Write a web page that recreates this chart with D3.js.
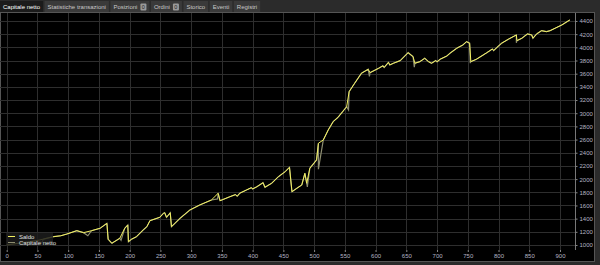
<!DOCTYPE html>
<meta charset="utf-8">
<style>
body { margin: 0; background: #2b2b2b; }
svg { display: block; font-family: "Liberation Sans", Arial, sans-serif; }
.tab text { font-size: 6px; fill: #c8c8c8; }
.tab.active text { fill: #ffffff; }
.axis text { font-size: 6px; fill: #b4b4c4; }
.legend text { font-size: 6px; fill: #e0e0e0; }
</style>
<svg width="600" height="265"></svg>
<script src="https://cdn.jsdelivr.net/npm/d3@7"></script>
<script>

// tab bar
var tabs = ["Capitale netto", "Statistiche transazioni", "Posizioni", "Ordini", "Storico", "Eventi", "Registri"];
var tabBadges = [null, null, "0", "0", null, null, null];

// trade number, balance
var tradeIdx = [0, 22, 46, 60, 76, 88, 98, 114, 125, 138, 152, 163, 165, 171, 184, 192, 197, 198, 203, 211,
  222, 228, 233, 249, 255, 257, 260, 266, 268, 282, 298, 314, 333, 344, 347, 363, 372, 375, 379, 390, 398, 400, 407, 417,
  420, 431, 442, 453, 460, 464, 472, 480, 485, 488, 493, 504, 507, 515, 523, 531, 539, 553, 557, 566,
  577, 588, 591, 605, 612, 614, 621, 623, 629, 640, 653, 661, 664, 672, 680, 686, 691, 698, 700, 705, 716, 721, 732, 742,
  748, 753, 755, 764, 781, 790, 792, 800, 805, 816, 829, 830, 838, 847, 854, 856, 862, 870, 878, 884, 892, 903, 916];
var saldo = [1000, 1030, 1061, 1090, 1126, 1140, 1167, 1217, 1187, 1217, 1254, 1329, 1087, 1026, 1102, 1254, 1304, 1050, 1087, 1126,
  1228, 1278, 1369, 1420, 1481, 1490, 1420, 1490, 1278, 1405, 1531, 1607, 1683, 1785, 1672, 1733, 1765, 1740, 1785, 1835, 1870, 1850, 1885, 1946,
  1876, 1937, 2037, 2113, 2179, 1809, 1861, 1911, 2088, 1937, 2164, 2290, 2544, 2594, 2746, 2872, 2939, 3099, 3327, 3455,
  3606, 3667, 3616, 3682, 3720, 3695, 3773, 3732, 3758, 3798, 3919, 3858, 3758, 3783, 3834, 3783, 3758, 3800, 3780, 3819, 3869, 3910, 3986, 4036,
  4086, 4062, 3783, 3819, 3919, 3975, 3950, 4021, 4062, 4123, 4188, 4102, 4138, 4203, 4188, 4138, 4203, 4253, 4238, 4253, 4290, 4340, 4416];

// net equity dips below balance (trade number, value)
var nettoIdx = [57, 132, 186, 343, 489, 507, 556, 590, 663, 754, 829];
var nettoVal = [1035, 1140, 1070, 1700, 1880, 2150, 3050, 3560, 3700, 3760, 4070];

var yTicks = d3.range(1000, 4401, 200);
var xTicks = d3.range(0, 901, 50);

var svg = d3.select("svg");

var panelTop = 13, plotRight = 575, plotBottom = 250;

// tab bar
var tabX = 0;
tabs.forEach(function(t, i) {
  var g = svg.append("g").attr("class", "tab" + (i === 0 ? " active" : ""));
  var bg = g.append("rect")
      .attr("x", tabX).attr("y", 1)
      .attr("height", 12)
      .attr("fill", i === 0 ? "#1b1b1b" : "#3a3a3a");
  var label = g.append("text")
      .attr("x", tabX + 3).attr("y", 9.2)
      .text(t);
  var w = label.node().getComputedTextLength() + 6;
  if (tabBadges[i]) {
    var bx = tabX + w;
    g.append("rect")
        .attr("x", bx).attr("y", 3.5).attr("width", 6).attr("height", 7)
        .attr("rx", 1).attr("fill", "#9a9a9a");
    g.append("text")
        .attr("x", bx + 1.4).attr("y", 9)
        .style("font-size", "5.5px").style("fill", "#222")
        .text(tabBadges[i]);
    w += 9;
  }
  w = Math.max(w, 22);
  bg.attr("width", w);
  tabX += w + 1.5;
});

// panel
svg.append("rect")
    .attr("x", 0.5).attr("y", panelTop - 0.5)
    .attr("width", 594).attr("height", 249)
    .attr("fill", "#000").attr("stroke", "#555");

var x = d3.scaleLinear().domain([-10.9, 924.4]).range([0, plotRight]);
var y = d3.scaleLinear().domain([924, 4521]).range([plotBottom, panelTop]);

// grid
svg.append("g").selectAll("line").data(xTicks).join("line")
    .attr("x1", function(d) { return Math.round(x(d)) + 0.5; })
    .attr("x2", function(d) { return Math.round(x(d)) + 0.5; })
    .attr("y1", panelTop).attr("y2", plotBottom)
    .attr("stroke", "#2e2e2e");

svg.append("g").selectAll("line").data(yTicks).join("line")
    .attr("x1", 0).attr("x2", plotRight)
    .attr("y1", function(d) { return Math.round(y(d)) + 0.5; })
    .attr("y2", function(d) { return Math.round(y(d)) + 0.5; })
    .attr("stroke", "#2e2e2e");

// axes
var yAxis = svg.append("g")
    .attr("class", "axis")
    .attr("transform", "translate(" + (plotRight + 0.5) + ",0)")
    .call(d3.axisRight(y).tickValues(yTicks).tickFormat(d3.format("d")).tickSize(2).tickPadding(2));
yAxis.select(".domain").attr("stroke", "#777").attr("d", "M0," + panelTop + "V" + plotBottom);
yAxis.selectAll(".tick line").attr("stroke", "#888");

var xAxis = svg.append("g")
    .attr("class", "axis")
    .attr("transform", "translate(0," + plotBottom + ")")
    .call(d3.axisBottom(x).tickValues(xTicks).tickFormat(d3.format("d")).tickSize(2).tickPadding(2));
xAxis.select(".domain").remove();
xAxis.selectAll(".tick line").attr("stroke", "#888");

// series
var saldoPts = tradeIdx.map(function(d, i) { return [d, saldo[i]]; });
var nettoPts = saldoPts.concat(nettoIdx.map(function(d, i) { return [d, nettoVal[i]]; }))
    .sort(function(a, b) { return a[0] - b[0]; });

var line = d3.line()
    .x(function(d) { return x(d[0]); })
    .y(function(d) { return y(d[1]); });

svg.append("path")
    .datum(nettoPts)
    .attr("fill", "none")
    .attr("stroke", "#8e8e70")
    .attr("stroke-width", 1.2)
    .attr("d", line);

svg.append("path")
    .datum(saldoPts)
    .attr("fill", "none")
    .attr("stroke", "#f2f060")
    .attr("stroke-width", 1)
    .attr("d", line);

// legend
var legend = svg.append("g").attr("class", "legend");
legend.append("rect")
    .attr("x", 6).attr("y", 233).attr("width", 47).attr("height", 13)
    .attr("fill", "#1c1c1c").attr("fill-opacity", 0.85);
legend.append("line")
    .attr("x1", 8).attr("x2", 15).attr("y1", 236.5).attr("y2", 236.5)
    .attr("stroke", "#f2f060");
legend.append("text").attr("x", 19).attr("y", 238.5).text("Saldo");
legend.append("line")
    .attr("x1", 8).attr("x2", 15).attr("y1", 242.5).attr("y2", 242.5)
    .attr("stroke", "#8e8e70");
legend.append("text").attr("x", 19).attr("y", 244.5).text("Capitale netto");

</script>
